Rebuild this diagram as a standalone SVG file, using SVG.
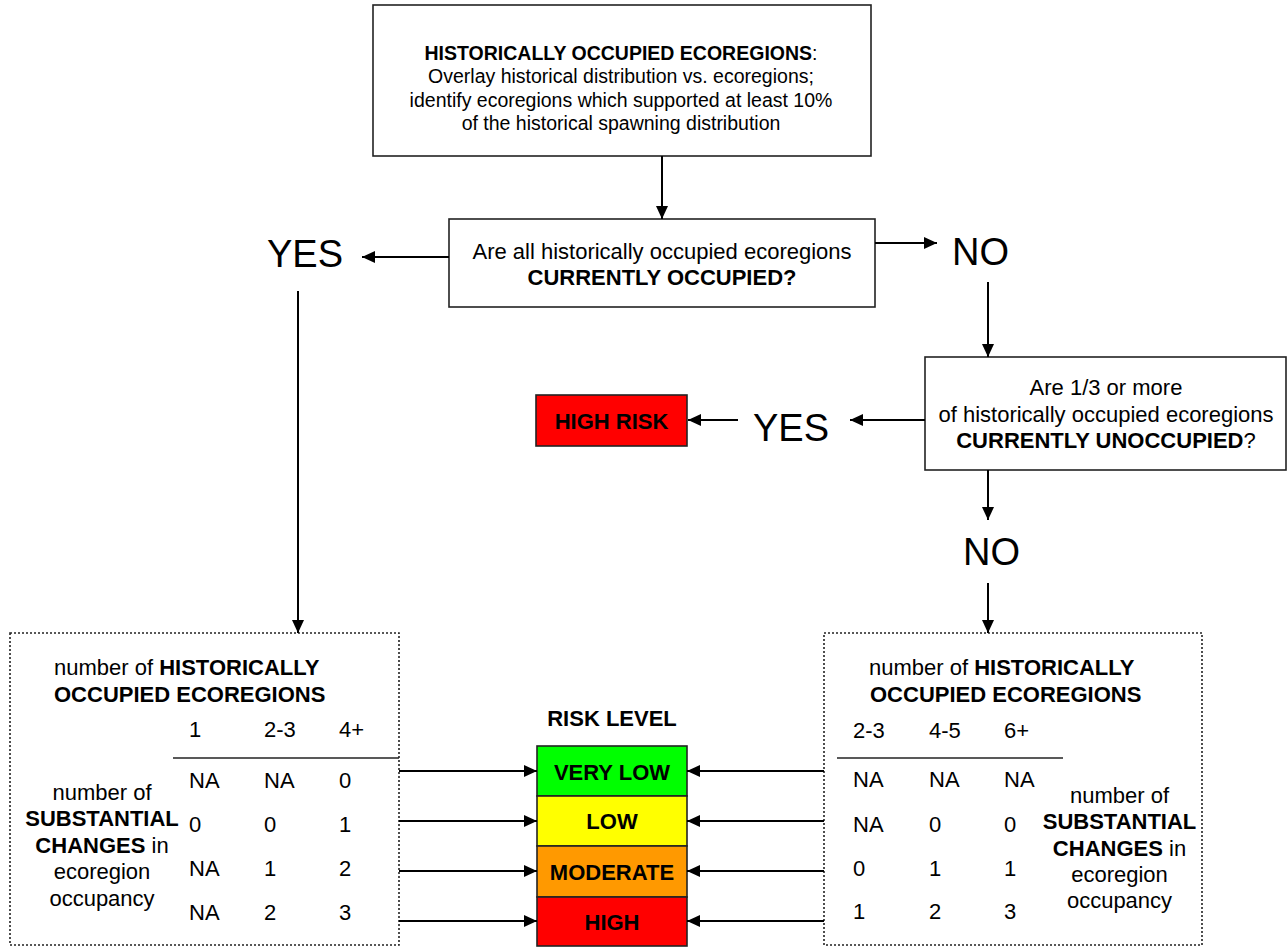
<svg xmlns="http://www.w3.org/2000/svg" width="1288" height="947" viewBox="0 0 1288 947">
<defs>
<marker id="ah" markerWidth="14" markerHeight="12" refX="13" refY="6" orient="auto" markerUnits="userSpaceOnUse"><path d="M0,0 L13,6 L0,12 z" fill="#000"/></marker>
<style>
text{font-family:"Liberation Sans",Arial,Helvetica,sans-serif;fill:#000}
.box{fill:#fff;stroke:#222;stroke-width:1.6}
.dot{fill:#fff;stroke:#222;stroke-width:1.6;stroke-dasharray:2 2}
.conn{stroke:#000;stroke-width:2;fill:none;marker-end:url(#ah)}
.big{font-size:38px}
.t19{font-size:19.5px}
.t22{font-size:22px}
.b{font-weight:bold}
.mid{text-anchor:middle}
.rl{stroke:#222;stroke-width:1.6}
</style>
</defs>
<rect width="1288" height="947" fill="#fff"/>

<g id="top-box">
<rect class="box" x="373" y="5" width="498" height="151"/>
<text class="t19 mid" x="621" y="60"><tspan class="b">HISTORICALLY OCCUPIED ECOREGIONS</tspan>:</text>
<text class="t19 mid" x="621" y="83.3">Overlay historical distribution vs. ecoregions;</text>
<text class="t19 mid" x="621" y="106.6">identify ecoregions which supported at least 10%</text>
<text class="t19 mid" x="621" y="130">of the historical spawning distribution</text>
</g>

<g id="q1">
<rect class="box" x="449" y="219" width="426" height="88"/>
<text class="t22 mid" x="662" y="258.5">Are all historically occupied ecoregions</text>
<text class="t22 mid b" x="662" y="284.5">CURRENTLY OCCUPIED?</text>
</g>

<g id="yes1"><text class="big" x="267" y="267">YES</text></g>
<g id="no1"><text class="big" x="952" y="265">NO</text></g>

<g id="q2">
<rect class="box" x="925" y="357" width="361" height="113"/>
<text class="t22 mid" x="1106" y="395">Are 1/3 or more</text>
<text class="t22 mid" x="1106" y="421.5">of historically occupied ecoregions</text>
<text class="t22 mid" x="1106" y="448"><tspan class="b">CURRENTLY UNOCCUPIED</tspan>?</text>
</g>

<g id="yes2"><text class="big" x="753" y="441">YES</text></g>
<g id="no2"><text class="big" x="963" y="565">NO</text></g>

<g id="high-risk">
<rect x="536" y="395" width="151" height="51" fill="#ff0000" stroke="#222" stroke-width="1.6"/>
<text class="t22 mid b" x="611.5" y="429">HIGH RISK</text>
</g>

<g id="left-table">
<rect class="dot" x="10" y="633" width="389" height="312"/>
<text class="t22" x="54" y="675">number of <tspan class="b">HISTORICALLY</tspan></text>
<text class="t22 b" x="54" y="702">OCCUPIED ECOREGIONS</text>
<text class="t22" x="189" y="737">1</text>
<text class="t22" x="264" y="737">2-3</text>
<text class="t22" x="339" y="737">4+</text>
<line class="rl" x1="173" y1="758" x2="399" y2="758"/>
<text class="t22" y="788"><tspan x="189">NA</tspan><tspan x="264">NA</tspan><tspan x="339">0</tspan></text>
<text class="t22" y="832"><tspan x="189">0</tspan><tspan x="264">0</tspan><tspan x="339">1</tspan></text>
<text class="t22" y="876"><tspan x="189">NA</tspan><tspan x="264">1</tspan><tspan x="339">2</tspan></text>
<text class="t22" y="920"><tspan x="189">NA</tspan><tspan x="264">2</tspan><tspan x="339">3</tspan></text>
<text class="t22 mid" x="102" y="799.5">number of</text>
<text class="t22 mid b" x="102" y="826">SUBSTANTIAL</text>
<text class="t22 mid" x="102" y="852.5"><tspan class="b">CHANGES</tspan> in</text>
<text class="t22 mid" x="102" y="879">ecoregion</text>
<text class="t22 mid" x="102" y="905.5">occupancy</text>
</g>

<g id="right-table">
<rect class="dot" x="824" y="633" width="378" height="312"/>
<text class="t22" x="869" y="675">number of <tspan class="b">HISTORICALLY</tspan></text>
<text class="t22 b" x="870" y="702">OCCUPIED ECOREGIONS</text>
<text class="t22" x="853" y="738">2-3</text>
<text class="t22" x="929" y="738">4-5</text>
<text class="t22" x="1004" y="738">6+</text>
<line class="rl" x1="837" y1="758" x2="1063" y2="758"/>
<text class="t22" y="787"><tspan x="853">NA</tspan><tspan x="929">NA</tspan><tspan x="1004">NA</tspan></text>
<text class="t22" y="832"><tspan x="853">NA</tspan><tspan x="929">0</tspan><tspan x="1004">0</tspan></text>
<text class="t22" y="876"><tspan x="853">0</tspan><tspan x="929">1</tspan><tspan x="1004">1</tspan></text>
<text class="t22" y="919"><tspan x="853">1</tspan><tspan x="929">2</tspan><tspan x="1004">3</tspan></text>
<text class="t22 mid" x="1119.5" y="803">number of</text>
<text class="t22 mid b" x="1119.5" y="829">SUBSTANTIAL</text>
<text class="t22 mid" x="1119.5" y="856"><tspan class="b">CHANGES</tspan> in</text>
<text class="t22 mid" x="1119.5" y="882">ecoregion</text>
<text class="t22 mid" x="1119.5" y="908">occupancy</text>
</g>

<g id="risk-level">
<text class="t22 mid b" x="612" y="726">RISK LEVEL</text>
<rect x="537" y="746" width="150" height="50" fill="#00ff00" stroke="#222" stroke-width="1.6"/>
<rect x="537" y="796" width="150" height="50" fill="#ffff00" stroke="#222" stroke-width="1.6"/>
<rect x="537" y="846" width="150" height="51" fill="#ff9900" stroke="#222" stroke-width="1.6"/>
<rect x="537" y="897" width="150" height="49" fill="#ff0000" stroke="#222" stroke-width="1.6"/>
<text class="t22 mid b" x="612" y="780">VERY LOW</text>
<text class="t22 mid b" x="612" y="829">LOW</text>
<text class="t22 mid b" x="612" y="880">MODERATE</text>
<text class="t22 mid b" x="612" y="930">HIGH</text>
</g>

<g id="connectors">
<line class="conn" x1="662" y1="156" x2="662" y2="219"/>
<line class="conn" x1="449" y1="257" x2="362" y2="257"/>
<line class="conn" x1="875" y1="243" x2="937" y2="243"/>
<line class="conn" x1="298" y1="291" x2="298" y2="633"/>
<line class="conn" x1="988" y1="282" x2="988" y2="357"/>
<line class="conn" x1="925" y1="420" x2="850" y2="420"/>
<line class="conn" x1="738" y1="420" x2="688" y2="420"/>
<line class="conn" x1="988" y1="470" x2="988" y2="520"/>
<line class="conn" x1="988" y1="583" x2="988" y2="633"/>
<line class="conn" x1="399" y1="771" x2="537" y2="771"/>
<line class="conn" x1="399" y1="821" x2="537" y2="821"/>
<line class="conn" x1="399" y1="871" x2="537" y2="871"/>
<line class="conn" x1="399" y1="921" x2="537" y2="921"/>
<line class="conn" x1="824" y1="771" x2="687" y2="771"/>
<line class="conn" x1="824" y1="821" x2="687" y2="821"/>
<line class="conn" x1="824" y1="871" x2="687" y2="871"/>
<line class="conn" x1="824" y1="921" x2="687" y2="921"/>
</g>
</svg>
